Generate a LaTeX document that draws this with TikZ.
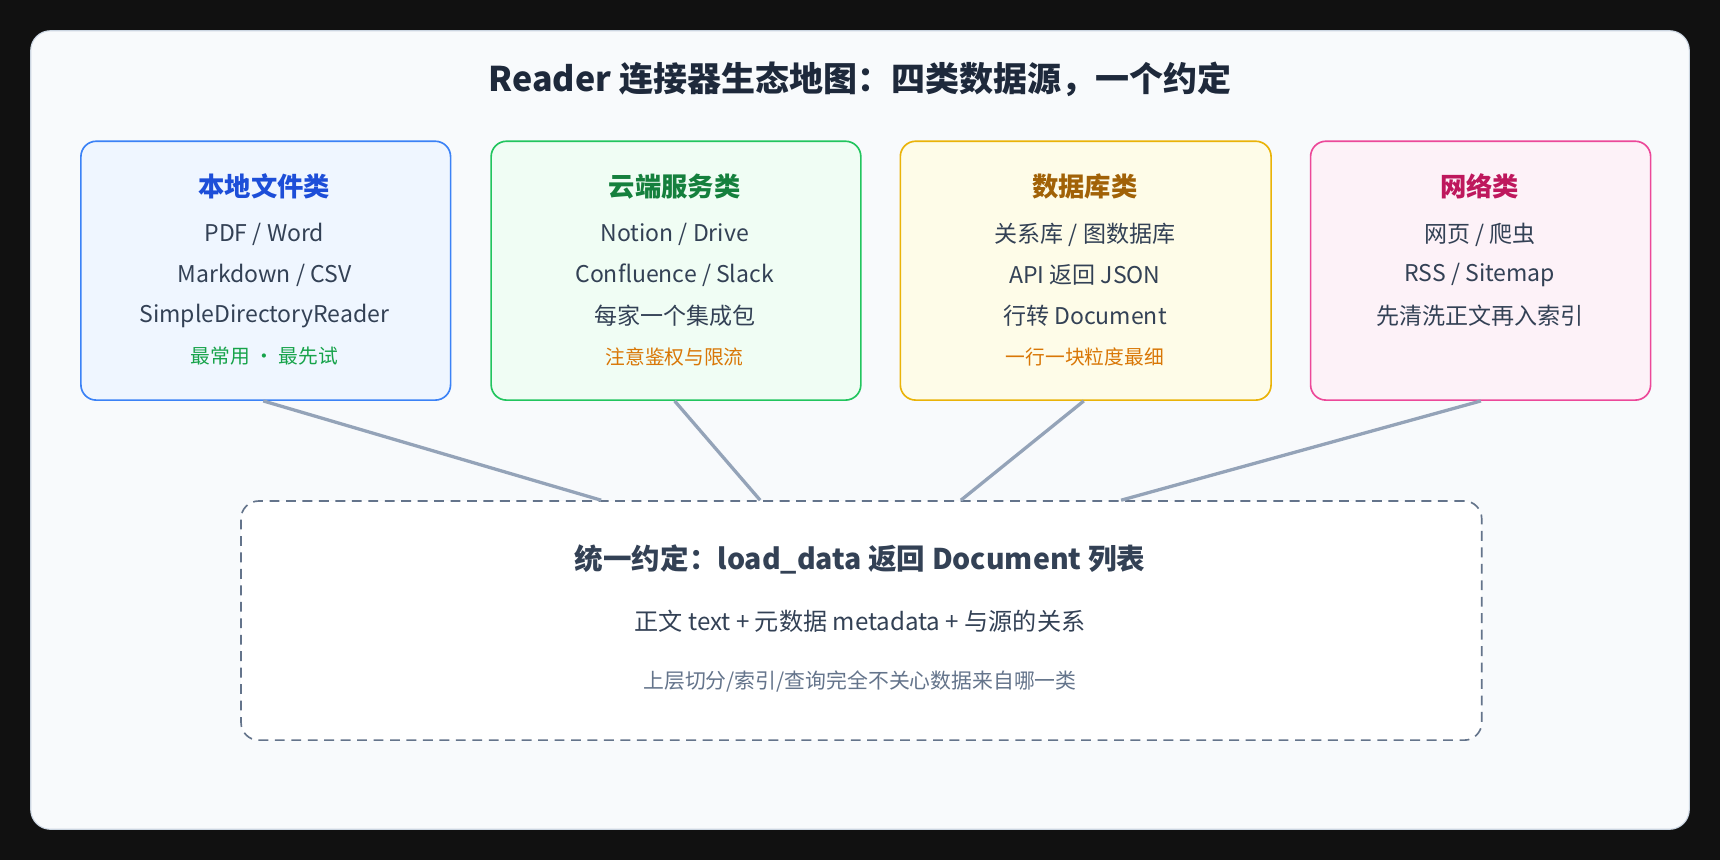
\documentclass[tikz,border=0pt]{standalone}
\usepackage{fontspec}
\setmainfont{Noto Sans CJK SC}
\usetikzlibrary{positioning,calc}
\definecolor{bgdark}{HTML}{111111}
\definecolor{panel}{HTML}{F8FAFC}
\definecolor{panelline}{HTML}{CBD5E1}
\definecolor{ink}{HTML}{334155}
\definecolor{inkdark}{HTML}{1E293B}
\definecolor{muted}{HTML}{64748B}
\definecolor{wire}{HTML}{94A3B8}
\definecolor{blueline}{HTML}{3B82F6}\definecolor{bluefill}{HTML}{EFF6FF}\definecolor{bluetext}{HTML}{1D4ED8}
\definecolor{greenline}{HTML}{22C55E}\definecolor{greenfill}{HTML}{F0FDF4}\definecolor{greentext}{HTML}{15803D}
\definecolor{yelline}{HTML}{EAB308}\definecolor{yelfill}{HTML}{FEFCE8}\definecolor{yeltext}{HTML}{A16207}
\definecolor{pinkline}{HTML}{EC4899}\definecolor{pinkfill}{HTML}{FDF2F8}\definecolor{pinktext}{HTML}{BE185D}
\definecolor{notegreen}{HTML}{16A34A}\definecolor{noteorange}{HTML}{D97706}
\tikzset{
  srcbox/.style={draw, line width=1.5pt, rounded corners=14pt, anchor=north west, minimum height=236pt},
  boxtitle/.style={font=\fontsize{24}{28}\selectfont\bfseries},
  item/.style={text=ink, font=\fontsize{21}{25}\selectfont},
  note/.style={font=\fontsize{18}{22}\selectfont},
  wire/.style={draw=wire, line width=3pt}
}
\begin{document}
\begin{tikzpicture}[x=1pt,y=-1pt]
  % background and panel
  \fill[bgdark] (0,0) rectangle (1568,784);
  \useasboundingbox (0,0) rectangle (1568,784);
  \draw[fill=panel, draw=panelline, line width=1pt, rounded corners=18pt] (28,28) rectangle (1540,756);
  \node[text=inkdark, font=\fontsize{31}{36}\selectfont\bfseries] (title) at (784,72) {Reader 连接器生态地图：四类数据源，一个约定};

  % source boxes
  \node[srcbox, draw=blueline, fill=bluefill, minimum width=337pt] (local) at (73,128) {};
  \node[srcbox, draw=greenline, fill=greenfill, minimum width=337pt] (cloud) at (447,128) {};
  \node[srcbox, draw=yelline, fill=yelfill, minimum width=338pt] (db) at (820,128) {};
  \node[srcbox, draw=pinkline, fill=pinkfill, minimum width=310pt] (web) at (1194,128) {};

  % local files
  \node[boxtitle, text=bluetext] at (241,170) {本地文件类};
  \node[item] at (241,214) {PDF / Word};
  \node[item] at (241,251) {Markdown / CSV};
  \node[item] at (241,288) {SimpleDirectoryReader};
  \node[note, text=notegreen] at (241,325) {最常用 · 最先试};

  % cloud services
  \node[boxtitle, text=greentext] at (615,170) {云端服务类};
  \node[item] at (615,214) {Notion / Drive};
  \node[item] at (615,251) {Confluence / Slack};
  \node[item] at (615,288) {每家一个集成包};
  \node[note, text=noteorange] at (615,325) {注意鉴权与限流};

  % databases
  \node[boxtitle, text=yeltext] at (989,170) {数据库类};
  \node[item] at (989,214) {关系库 / 图数据库};
  \node[item] at (989,251) {API 返回 JSON};
  \node[item] at (989,288) {行转 Document};
  \node[note, text=noteorange] at (989,325) {一行一块粒度最细};

  % web
  \node[boxtitle, text=pinktext] at (1349,170) {网络类};
  \node[item] at (1349,214) {网页 / 爬虫};
  \node[item] at (1349,251) {RSS / Sitemap};
  \node[item] at (1349,288) {先清洗正文再入索引};

  % unified contract
  \node[draw=muted, fill=white, line width=1.5pt, dash pattern=on 9pt off 6pt, rounded corners=16pt,
        anchor=north west, minimum width=1131pt, minimum height=218pt] (contract) at (219,456) {};
  \node[text=ink, font=\fontsize{26}{30}\selectfont\bfseries] at (784,510) {统一约定：load\_data 返回 Document 列表};
  \node[item, font=\fontsize{22}{26}\selectfont] at (784,566) {正文 text + 元数据 metadata + 与源的关系};
  \node[text=muted, font=\fontsize{19}{23}\selectfont] at (784,621) {上层切分/索引/查询完全不关心数据来自哪一类};

  % connectors
  \coordinate (in1) at (548,456);
  \coordinate (in2) at (693,456);
  \coordinate (in3) at (876,456);
  \coordinate (in4) at (1022,456);
  \draw[wire] ($(local.south west)+(167,0)$) -- (in1);
  \draw[wire] ($(cloud.south west)+(168,0)$) -- (in2);
  \draw[wire] ($(db.south west)+(168,0)$) -- (in3);
  \draw[wire] ($(web.south west)+(156,0)$) -- (in4);
\end{tikzpicture}
\end{document}
